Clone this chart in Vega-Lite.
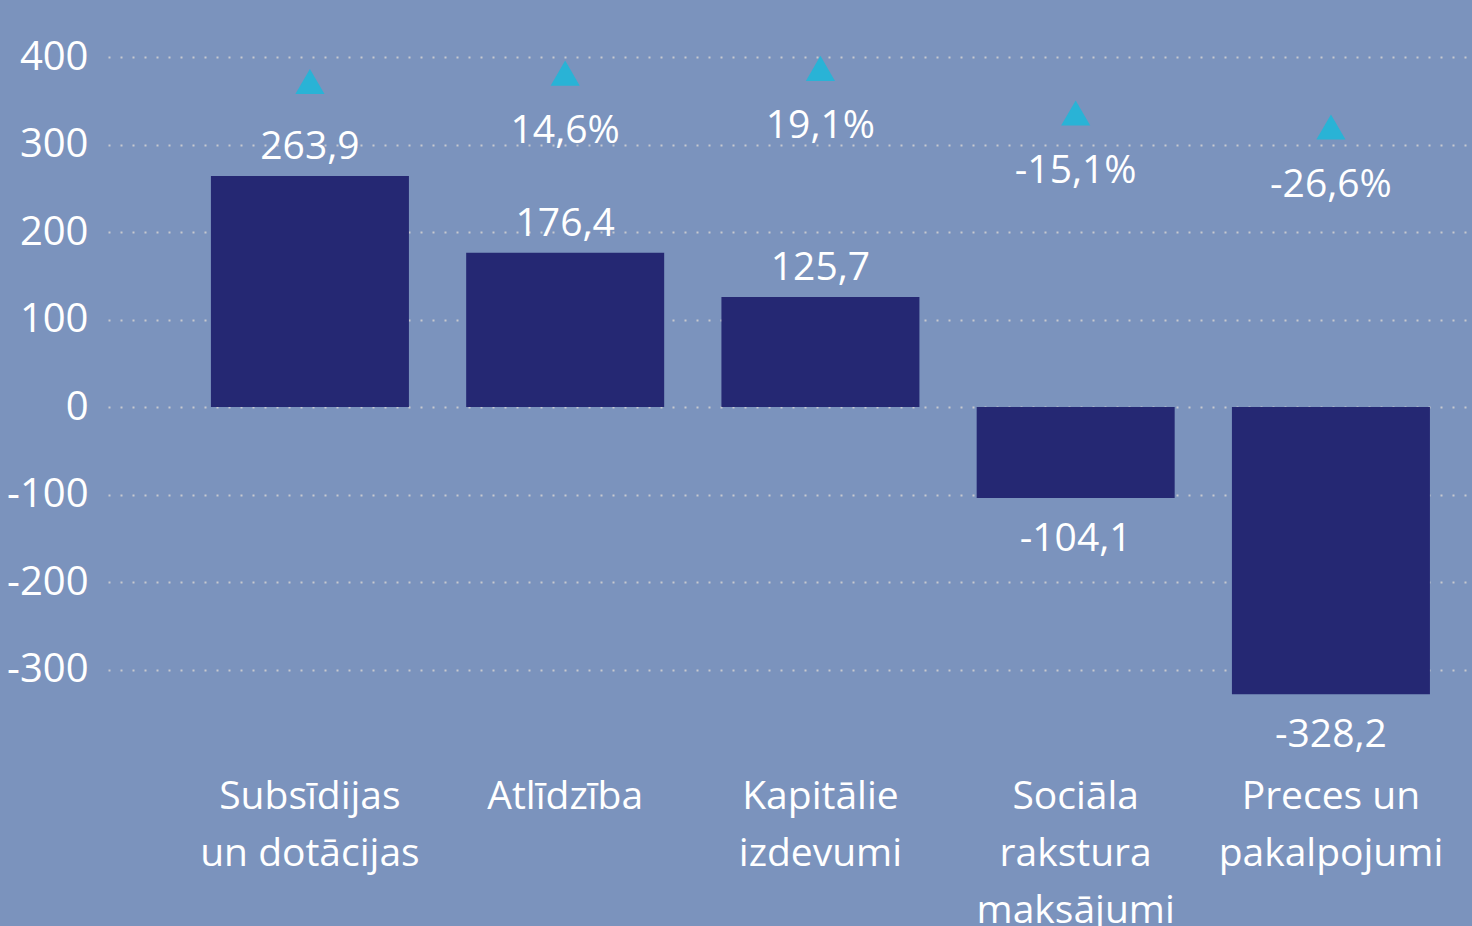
{
  "$schema": "https://vega.github.io/schema/vega-lite/v6.json",
  "autosize": {"type": "none"},
  "padding": {"left": 108, "top": 57, "right": 4, "bottom": 169},
  "width": 1360,
  "height": 700,
  "background": "#7B93BD",
  "config": {
    "view": {"stroke": null},
    "font": "Open Sans",
    "axis": {"labelFont": "Open Sans"}
  },
  "data": {
    "values": [
      {"kategorija": "Subsīdijas un dotācijas", "vertiba": 263.9, "teksts": "263,9", "marker": 372, "pct": ""},
      {"kategorija": "Atlīdzība", "vertiba": 176.4, "teksts": "176,4", "marker": 381.7, "pct": "14,6%"},
      {"kategorija": "Kapitālie izdevumi", "vertiba": 125.7, "teksts": "125,7", "marker": 387, "pct": "19,1%"},
      {"kategorija": "Sociāla rakstura maksājumi", "vertiba": -104.1, "teksts": "-104,1", "marker": 336, "pct": "-15,1%"},
      {"kategorija": "Preces un pakalpojumi", "vertiba": -328.2, "teksts": "-328,2", "marker": 320, "pct": "-26,6%"}
    ]
  },
  "encoding": {
    "x": {
      "field": "kategorija",
      "type": "nominal",
      "sort": null,
      "scale": {"paddingInner": 0.2243, "paddingOuter": 0.2762, "align": 0.73},
      "axis": {
        "title": null,
        "domain": false,
        "ticks": false,
        "labelAngle": 0,
        "labelColor": "#FFFFFF",
        "labelFontSize": 39,
        "labelLineHeight": 57,
        "labelPadding": 20,
        "labelBaseline": "top",
        "labelLimit": 400,
        "labelExpr": "datum.value == 'Subsīdijas un dotācijas' ? ['Subsīdijas', 'un dotācijas'] : datum.value == 'Kapitālie izdevumi' ? ['Kapitālie', 'izdevumi'] : datum.value == 'Sociāla rakstura maksājumi' ? ['Sociāla', 'rakstura', 'maksājumi'] : datum.value == 'Preces un pakalpojumi' ? ['Preces un', 'pakalpojumi'] : datum.value"
      }
    }
  },
  "layer": [
    {
      "mark": {"type": "bar", "color": "#252873"},
      "encoding": {
        "y": {
          "field": "vertiba",
          "type": "quantitative",
          "scale": {"domain": [-400, 400], "nice": false},
          "axis": {
            "title": null,
            "values": [-300, -200, -100, 0, 100, 200, 300, 400],
            "domain": false,
            "ticks": false,
            "labelColor": "#FFFFFF",
            "labelFontSize": 40,
            "labelPadding": 20,
            "labelExpr": "'' + datum.value",
            "grid": true,
            "gridColor": "#CFCFCF",
            "gridDash": [2, 10],
            "gridWidth": 2,
            "gridOpacity": 0.9
          }
        }
      }
    },
    {
      "transform": [{"filter": "datum.vertiba >= 0"}],
      "mark": {"type": "text", "color": "#FFFFFF", "fontSize": 39, "baseline": "alphabetic", "dy": -17},
      "encoding": {
        "y": {"field": "vertiba", "type": "quantitative"},
        "text": {"field": "teksts"}
      }
    },
    {
      "transform": [{"filter": "datum.vertiba < 0"}],
      "mark": {"type": "text", "color": "#FFFFFF", "fontSize": 39, "baseline": "alphabetic", "dy": 53},
      "encoding": {
        "y": {"field": "vertiba", "type": "quantitative"},
        "text": {"field": "teksts"}
      }
    },
    {
      "mark": {"type": "point", "shape": "triangle-up", "filled": true, "color": "#29B3D6", "opacity": 1, "size": 850},
      "encoding": {
        "y": {"field": "marker", "type": "quantitative"}
      }
    },
    {
      "mark": {"type": "text", "color": "#FFFFFF", "fontSize": 39, "baseline": "alphabetic", "dy": 70},
      "encoding": {
        "y": {"field": "marker", "type": "quantitative"},
        "text": {"field": "pct"}
      }
    }
  ]
}
